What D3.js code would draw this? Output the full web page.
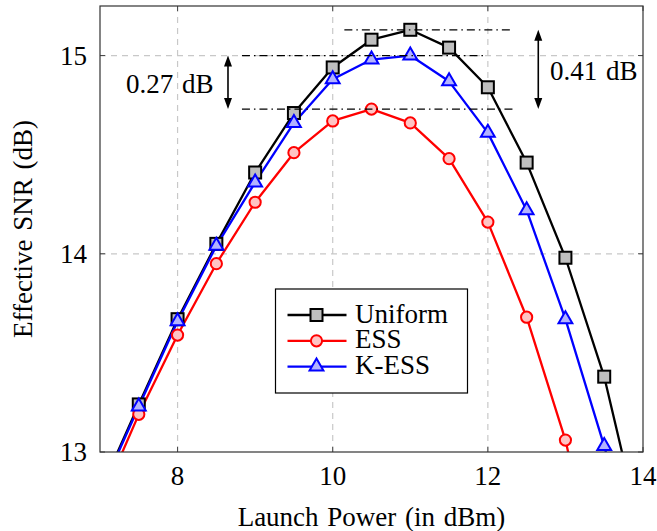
<!DOCTYPE html>
<html>
<head>
<meta charset="utf-8">
<script src="https://cdn.jsdelivr.net/npm/d3@7"></script>
<style>
  body { margin: 0; background: #fff; }
  text { font-family: "Liberation Serif", "Times New Roman", serif; fill: #000; }
</style>
</head>
<body>
<div class="canvas"></div>
<script>
// launch power points (dBm)
var power = [7, 7.5, 8, 8.5, 9, 9.5, 10, 10.5, 11, 11.5, 12, 12.5, 13, 13.5, 14];
// effective SNR (dB)
var uniform = [12.80, 13.24, 13.67, 14.05, 14.41, 14.71, 14.94, 15.08, 15.13, 15.04, 14.84, 14.46, 13.98, 13.38, 12.55];
var ess     = [12.74, 13.19, 13.59, 13.95, 14.26, 14.51, 14.67, 14.73, 14.66, 14.48, 14.16, 13.68, 13.06, 12.20, 11.5];
var kess    = [12.79, 13.23, 13.66, 14.04, 14.36, 14.66, 14.88, 14.98, 15.00, 14.87, 14.61, 14.22, 13.67, 13.03, 12.3];
var xTicks = [8, 10, 12, 14];
var yTicks = [13, 14, 15];
var legendLabels = ['Uniform', 'ESS', 'K-ESS'];
var gapLabels = ['0.27 dB', '0.41 dB'];

var width = 657, height = 531;
var margin = {left: 100, right: 14, top: 6, bottom: 79};
var fs = '27px';

var svg = d3.select('.canvas').append('svg')
	.attr('width', width).attr('height', height);

var x = d3.scaleLinear().domain([7, 14]).range([margin.left, width - margin.right]);
var y = d3.scaleLinear().domain([13, 15.25]).range([height - margin.bottom, margin.top]);

var x0 = x.range()[0], x1 = x.range()[1], y0 = y.range()[0], y1 = y.range()[1];

svg.append('clipPath').attr('id', 'plotclip')
	.append('rect').attr('x', x0).attr('y', y1).attr('width', x1 - x0).attr('height', y0 - y1);

// grid
var grid = svg.append('g');
grid.selectAll('line.vg').data(xTicks.filter(d => d < 14)).enter().append('line')
	.attr('x1', d => x(d)).attr('x2', d => x(d)).attr('y1', y0).attr('y2', y1)
	.attr('stroke', '#c8c8c8').attr('stroke-width', 1.2).attr('stroke-dasharray', '6,5');
grid.selectAll('line.hg').data(yTicks.filter(d => d > 13)).enter().append('line')
	.attr('y1', d => y(d)).attr('y2', d => y(d)).attr('x1', x0).attr('x2', x1)
	.attr('stroke', '#c8c8c8').attr('stroke-width', 1.2).attr('stroke-dasharray', '6,5');

// inner ticks
var ticks = svg.append('g').attr('stroke', '#444').attr('stroke-width', 1);
xTicks.forEach(function(t) {
	ticks.append('line').attr('x1', x(t)).attr('x2', x(t)).attr('y1', y0).attr('y2', y0 - 5);
	ticks.append('line').attr('x1', x(t)).attr('x2', x(t)).attr('y1', y1).attr('y2', y1 + 5);
});
yTicks.forEach(function(t) {
	ticks.append('line').attr('y1', y(t)).attr('y2', y(t)).attr('x1', x0).attr('x2', x0 + 5);
	ticks.append('line').attr('y1', y(t)).attr('y2', y(t)).attr('x1', x1).attr('x2', x1 - 5);
});

// tick labels
svg.selectAll('text.xt').data(xTicks).enter().append('text')
	.attr('x', d => x(d)).attr('y', y0 + 33)
	.attr('text-anchor', 'middle').style('font-size', fs).text(d => d);
svg.selectAll('text.yt').data(yTicks).enter().append('text')
	.attr('x', x0 - 13).attr('y', d => y(d)).attr('dy', '0.35em')
	.attr('text-anchor', 'end').style('font-size', fs).text(d => d);

// axis titles
svg.append('text').attr('x', 371.5).attr('y', 526)
	.attr('text-anchor', 'middle').style('font-size', fs).style('word-spacing', '2px')
	.text('Launch Power (in dBm)');
svg.append('text').attr('transform', 'translate(31.5,' + ((y0 + y1) / 2) + ') rotate(-90)')
	.attr('text-anchor', 'middle').style('font-size', fs).style('word-spacing', '2px')
	.text('Effective SNR (dB)');

// series
var series = [
	{name: 'Uniform', values: uniform, color: '#000', fill: '#bfbfbf', shape: 'square'},
	{name: 'ESS', values: ess, color: '#ff0000', fill: '#ffc4c4', shape: 'circle'},
	{name: 'K-ESS', values: kess, color: '#0000ff', fill: '#b3b3ff', shape: 'triangle'}
];

var line = d3.line().x((d, i) => x(power[i])).y(d => y(d));
var plot = svg.append('g').attr('clip-path', 'url(#plotclip)');

function drawMarker(g, shape, cx, cy, color, fill) {
	if (shape === 'square') {
		g.append('rect').attr('x', cx - 6).attr('y', cy - 6).attr('width', 12).attr('height', 12)
			.attr('fill', fill).attr('stroke', color).attr('stroke-width', 2);
	} else if (shape === 'circle') {
		g.append('circle').attr('cx', cx).attr('cy', cy).attr('r', 5.6)
			.attr('fill', fill).attr('stroke', color).attr('stroke-width', 2);
	} else {
		var r = 8;
		g.append('path')
			.attr('d', 'M' + cx + ',' + (cy - r) + 'L' + (cx + r * 0.866) + ',' + (cy + r / 2) +
				'L' + (cx - r * 0.866) + ',' + (cy + r / 2) + 'Z')
			.attr('fill', fill).attr('stroke', color).attr('stroke-width', 2);
	}
}

series.forEach(function(s) {
	plot.append('path').datum(s.values).attr('d', line)
		.attr('fill', 'none').attr('stroke', s.color).attr('stroke-width', 2.3)
		.attr('stroke-linejoin', 'round');
});
series.forEach(function(s) {
	s.values.forEach(function(v, i) {
		if (power[i] < 7.5 || v < 13) return;
		drawMarker(plot, s.shape, x(power[i]), y(v), s.color, s.fill);
	});
});

// frame
svg.append('rect').attr('x', x0).attr('y', y1).attr('width', x1 - x0).attr('height', y0 - y1)
	.attr('fill', 'none').attr('stroke', '#333').attr('stroke-width', 1.2);

// annotations: dash-dot reference lines
var essPeak = d3.max(ess), kessPeak = d3.max(kess), uniPeak = d3.max(uniform);
var ann = svg.append('g').attr('stroke', '#000').attr('stroke-width', 1.3)
	.attr('stroke-dasharray', '8,4,1.5,4');
ann.append('line').attr('x1', x(10.15)).attr('x2', x(12.3)).attr('y1', y(uniPeak)).attr('y2', y(uniPeak));
ann.append('line').attr('x1', x(8.83)).attr('x2', x(11.98)).attr('y1', y(kessPeak)).attr('y2', y(kessPeak));
ann.append('line').attr('x1', x(8.83)).attr('x2', x(12.35)).attr('y1', y(essPeak)).attr('y2', y(essPeak));

function dblArrow(px, ya, yb) {
	var g = svg.append('g');
	g.append('line').attr('x1', px).attr('x2', px).attr('y1', ya + 8).attr('y2', yb - 8)
		.attr('stroke', '#000').attr('stroke-width', 1.6);
	g.append('path').attr('d', 'M' + px + ',' + ya + 'l4,11l-8,0z').attr('fill', '#000');
	g.append('path').attr('d', 'M' + px + ',' + yb + 'l4,-11l-8,0z').attr('fill', '#000');
}
dblArrow(x(8.65), y(kessPeak), y(essPeak));
dblArrow(x(12.65), y(uniPeak), y(essPeak));

svg.append('text').attr('x', 213.5).attr('y', 93)
	.attr('text-anchor', 'end').style('font-size', fs).style('word-spacing', '2px')
	.text(gapLabels[0]);
svg.append('text').attr('x', 550).attr('y', 80)
	.attr('text-anchor', 'start').style('font-size', fs).style('word-spacing', '2px')
	.text(gapLabels[1]);

// legend
var lg = svg.append('g').attr('transform', 'translate(275.5,289)');
lg.append('rect').attr('width', 192).attr('height', 104)
	.attr('fill', '#fff').attr('stroke', '#000').attr('stroke-width', 1.2);
series.forEach(function(s, i) {
	var ly = 26 + i * 25.8;
	lg.append('line').attr('x1', 12).attr('x2', 71).attr('y1', ly).attr('y2', ly)
		.attr('stroke', s.color).attr('stroke-width', 2.3);
	drawMarker(lg, s.shape, 41, ly, s.color, s.fill);
	lg.append('text').attr('x', 79.5).attr('y', ly + 7.5)
		.style('font-size', fs).text(legendLabels[i]);
});
</script>
</body>
</html>
